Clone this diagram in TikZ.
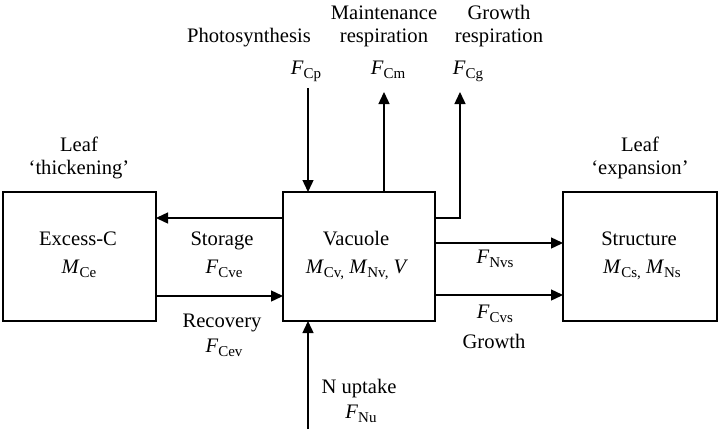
\documentclass[tikz,border=0pt]{standalone}
\usepackage{fontspec}
\setmainfont{Liberation Serif}
\usetikzlibrary{arrows.meta}
\newcommand{\vsub}[2]{\textit{#1}\raisebox{-0.45ex}{\fontsize{15}{15}\selectfont #2}}
\begin{document}
\begin{tikzpicture}[x=1pt,y=-1pt,
  font=\fontsize{20.6}{23}\selectfont,
  box/.style={draw, line width=2.8pt, inner sep=0pt, outer sep=0pt},
  flow/.style={line width=1.4pt, -{Triangle[length=12pt,width=11pt]}},
  lbl/.style={inner sep=0pt, anchor=base}]
\useasboundingbox (0,0) rectangle (720,429);

% boxes
\node[box, minimum width=153pt, minimum height=129pt] (exc) at (79.5,256.5) {};
\node[box, minimum width=152pt, minimum height=129pt] (vac) at (359,256.5) {};
\node[box, minimum width=154pt, minimum height=129pt] (str) at (640,256.5) {};

% box texts
\node[lbl] (t1) at (78,245) {Excess-C};
\node[lbl] (t2) at (79,273) {\vsub{M}{Ce}};
\node[lbl] (t3) at (356,245) {Vacuole};
\node[lbl] (t4) at (357,273) {\vsub{M}{Cv,} \vsub{M}{Nv,} \textit{V}};
\node[lbl] (t5) at (639,245) {Structure};
\node[lbl] (t6) at (642,273) {\vsub{M}{Cs,} \vsub{M}{Ns}};

% titles above boxes
\node[lbl] (l1) at (79,151) {Leaf};
\node[lbl] (l2) at (79,174) {`thickening'};
\node[lbl] (l3) at (640,151) {Leaf};
\node[lbl] (l4) at (640,174) {`expansion'};

% top labels
\node[lbl] (p1) at (249,42) {Photosynthesis};
\node[lbl] (m1) at (384,19) {Maintenance};
\node[lbl] (m2) at (384,42) {respiration};
\node[lbl] (g1) at (499,19) {Growth};
\node[lbl] (g2) at (499,42) {respiration};
\node[lbl] (fcp) at (306,74) {\vsub{F}{Cp}};
\node[lbl] (fcm) at (388,74) {\vsub{F}{Cm}};
\node[lbl] (fcg) at (468,74) {\vsub{F}{Cg}};

% middle labels
\node[lbl] (s1) at (222,245) {Storage};
\node[lbl] (s2) at (224,273) {\vsub{F}{Cve}};
\node[lbl] (r1) at (222,327) {Recovery};
\node[lbl] (r2) at (224,352) {\vsub{F}{Cev}};
\node[lbl] (n1) at (495,263) {\vsub{F}{Nvs}};
\node[lbl] (n2) at (495,318) {\vsub{F}{Cvs}};
\node[lbl] (gr) at (494,348) {Growth};
\node[lbl] (u1) at (359,393) {N uptake};
\node[lbl] (u2) at (361,418) {\vsub{F}{Nu}};

% free ends
\coordinate (cp) at (308,88);
\coordinate (cm) at (384,92);
\coordinate (cg) at (460,92);
\coordinate (nu) at (308,429);

% connectors
\draw[flow] (vac.west |- 0,218) -- (exc.east |- 0,218);
\draw[flow] (exc.east |- 0,296) -- (vac.west |- 0,296);
\draw[flow] (cp) -- (cp |- vac.north);
\draw[flow] (cm |- vac.north) -- (cm);
\draw[flow] (vac.east |- 0,218) -| (cg);
\draw[flow] (vac.east |- 0,243) -- (str.west |- 0,243);
\draw[flow] (vac.east |- 0,295) -- (str.west |- 0,295);
\draw[flow] (nu) -- (nu |- vac.south);
\end{tikzpicture}
\end{document}
